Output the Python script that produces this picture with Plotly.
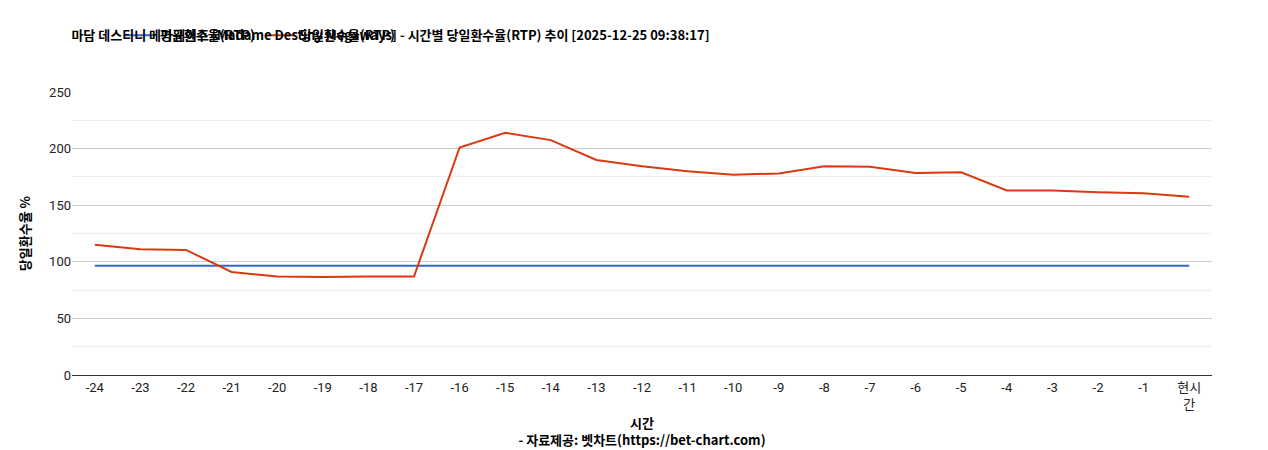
import plotly.graph_objects as go

hours = ["-24","-23","-22","-21","-20","-19","-18","-17","-16","-15","-14","-13","-12","-11","-10","-9","-8","-7","-6","-5","-4","-3","-2","-1","현시<br>간"]
daily = [115,111,110.5,91,87,86.5,87,87,201,214,207.5,190,184.5,180,177,178,184.5,184,178.5,179,163,163,161.5,160.5,157.5]
avg = [96.5]*len(hours)

fig = go.Figure()
fig.add_trace(go.Scatter(x=hours, y=avg, mode="lines", name="<b>평균환수율(RTP)</b>", line=dict(color="#3366cc", width=2)))
fig.add_trace(go.Scatter(x=hours, y=daily, mode="lines", name="<b>당일환수율(RTP)</b>", line=dict(color="#dc3912", width=2)))
fig.update_layout(
    width=1268, height=450, plot_bgcolor="white", paper_bgcolor="white",
    font=dict(family="Roboto, Noto Sans CJK KR", size=13, color="#222"),
    title=dict(text="<b>마담 데스티니 메가웨이즈 [Madame Destiny Megaways] - 시간별 당일환수율(RTP) 추이 [2025-12-25 09:38:17]</b>",
               x=0.05, y=0.95, xanchor="left", font=dict(family="Noto Sans CJK KR", size=13, color="#000")),
    legend=dict(orientation="h", x=0.042, y=1.2, xanchor="left", yanchor="middle",
                font=dict(family="Noto Sans CJK KR", size=13, color="#000"), itemwidth=30),
    margin=dict(l=64, r=64, t=78, b=79),
    showlegend=True,
)
fig.update_xaxes(title=dict(text="<b>시간</b><br><b>- 자료제공: 벳차트(https://bet-chart.com)</b>", font=dict(family="Noto Sans CJK KR", size=13, color="#000"), standoff=8),
                 showline=True, linecolor="#333", ticks="", showgrid=False, range=[-0.5, 24.5],
                 tickfont=dict(size=13, color="#222"))
fig.update_yaxes(title=dict(text="<b>당일환수율 %</b>", font=dict(family="Noto Sans CJK KR", size=13, color="#000")), range=[0,250], dtick=50,
                 gridcolor="#cccccc", minor=dict(dtick=25, showgrid=True, gridcolor="#eeeeee"), zeroline=False,
                 tickfont=dict(size=13, color="#222"))
fig.write_html("out.html")
